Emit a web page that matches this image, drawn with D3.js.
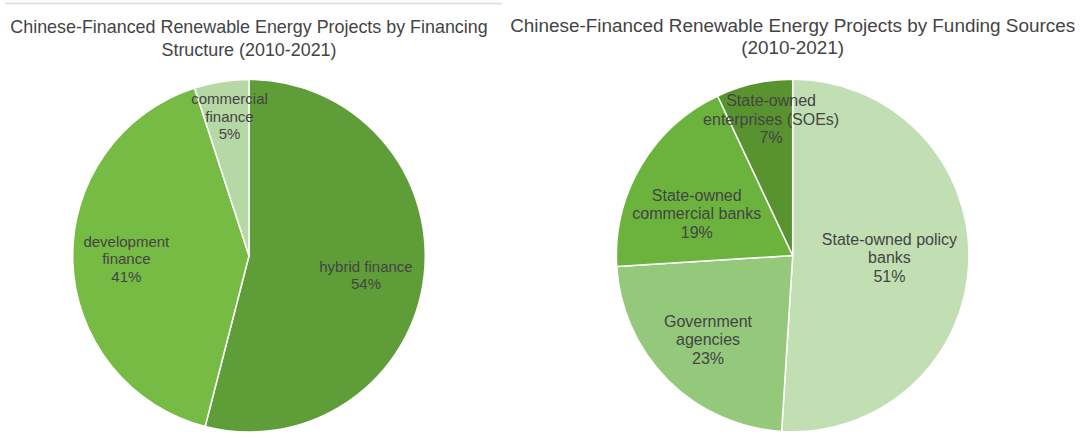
<!DOCTYPE html>
<html>
<head>
<meta charset="utf-8">
<script src="https://cdn.jsdelivr.net/npm/d3@7"></script>
<style>
  html, body { margin: 0; padding: 0; background: #fff; }
  svg { display: block; }
  text { font-family: "Liberation Sans", Arial, Helvetica, sans-serif; fill: #444; }
</style>
</head>
<body>
<svg id="chart" width="1081" height="446"></svg>
<script>
// Financing structure (2010-2021), share of projects in %
const structureLabels = [["hybrid finance"], ["development", "finance"], ["commercial", "finance"]];
const structureValues = [54, 41, 5];
const structureColors = ["#5f9d38", "#76bb44", "#b6d8a5"];

// Funding sources (2010-2021), share of projects in %
const sourceLabels = [["State-owned policy", "banks"], ["Government", "agencies"], ["State-owned", "commercial banks"], ["State-owned", "enterprises (SOEs)"]];
const sourceValues = [51, 23, 19, 7];
const sourceColors = ["#c1dfb3", "#94c87a", "#6cb33e", "#58932f"];

const svg = d3.select("#chart");

// thin rule above the left chart
svg.append("line")
  .attr("x1", 5).attr("x2", 502)
  .attr("y1", 3.5).attr("y2", 3.5)
  .attr("stroke", "#dcdcdc").attr("stroke-width", 1.5);

function drawPie(opts) {
  const g = svg.append("g").attr("transform", `translate(${opts.cx},${opts.cy})`);

  // title
  const t = svg.append("text")
    .attr("text-anchor", "middle")
    .style("font-size", opts.titleSize + "px");
  opts.title.forEach((line, i) => {
    t.append("tspan").attr("x", opts.cx).attr("y", opts.titleY[i]).text(line);
  });

  const pie = d3.pie().sort(null).value(d => d.value);
  const arc = d3.arc().innerRadius(0).outerRadius(opts.r);
  const data = opts.values.map((v, i) => ({ value: v, label: opts.labels[i], color: opts.colors[i] }));
  const arcs = pie(data);

  g.selectAll("path.slice")
    .data(arcs)
    .join("path")
    .attr("class", "slice")
    .attr("d", arc)
    .attr("fill", d => d.data.color)
    .attr("stroke", "#fff")
    .attr("stroke-width", 1.5)
    .attr("stroke-linejoin", "round");

  // labels placed along each slice's bisector
  g.selectAll("text.lbl")
    .data(arcs)
    .join("text")
    .attr("class", "lbl")
    .attr("text-anchor", "middle")
    .style("font-size", opts.labelSize + "px")
    .each(function (d, i) {
      const place = opts.labelPlace[i];
      const a = (d.startAngle + d.endAngle) / 2 + place.da * Math.PI / 180;
      const rr = place.rr * opts.r;
      const x = rr * Math.sin(a);
      const y = -rr * Math.cos(a);
      const lines = d.data.label.concat([d.data.value + "%"]);
      const n = lines.length;
      const lh = opts.lineHeight;
      const top = y - (n - 1) * lh / 2 + opts.labelSize * 0.35;
      const el = d3.select(this);
      lines.forEach((ln, k) => {
        el.append("tspan").attr("x", x).attr("y", top + k * lh).text(ln);
      });
    });
}

drawPie({
  cx: 249, cy: 255.7, r: 176.3,
  title: ["Chinese-Financed Renewable Energy Projects by Financing", "Structure (2010-2021)"],
  titleY: [33, 56], titleSize: 17.9,
  labels: structureLabels, values: structureValues, colors: structureColors,
  labelSize: 15, lineHeight: 17.5,
  labelPlace: [{ rr: 0.673, da: 2.4 }, { rr: 0.696, da: 0.2 }, { rr: 0.796, da: 1 }]
});

drawPie({
  cx: 792.7, cy: 255.5, r: 176.3,
  title: ["Chinese-Financed Renewable Energy Projects by Funding Sources", "(2010-2021)"],
  titleY: [32, 53.5], titleSize: 18.9,
  labels: sourceLabels, values: sourceValues, colors: sourceColors,
  labelSize: 16, lineHeight: 18.6,
  labelPlace: [{ rr: 0.549, da: -0.4 }, { rr: 0.678, da: 0.1 }, { rr: 0.594, da: -7 }, { rr: 0.783, da: 3.6 }]
});
</script>
</body>
</html>
